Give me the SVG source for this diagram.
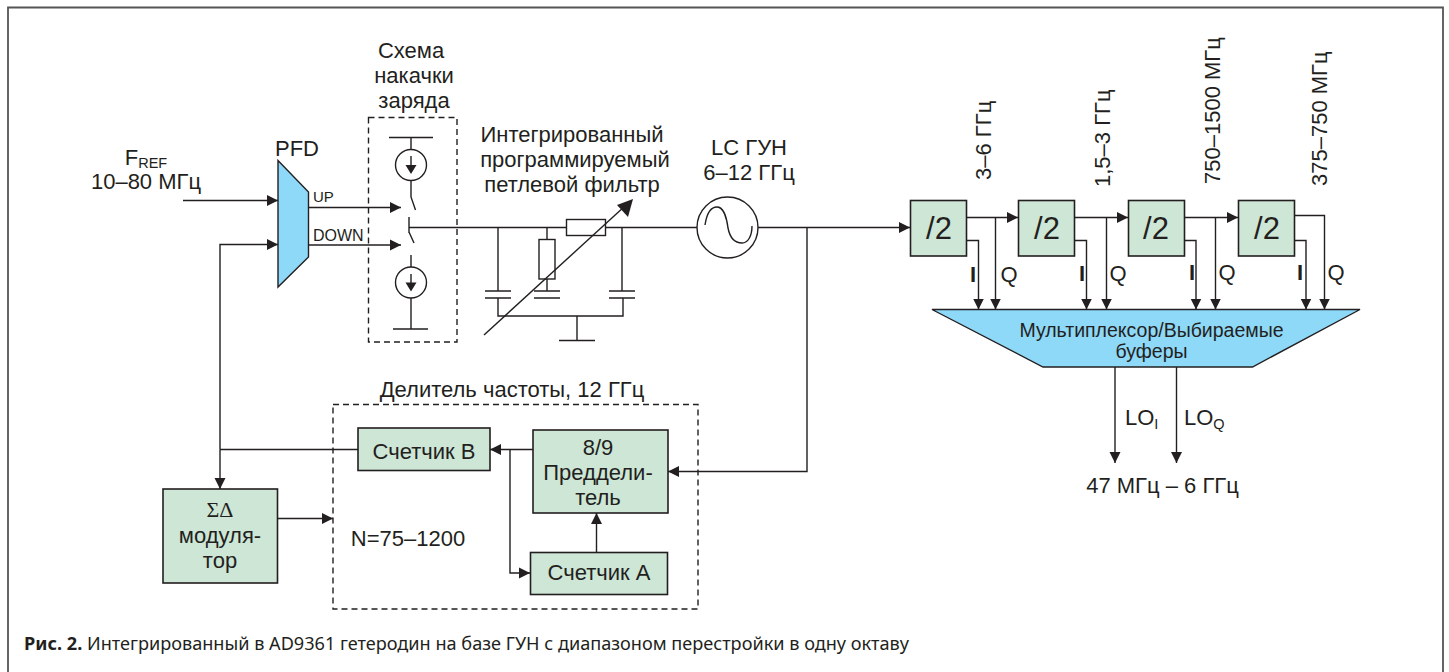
<svg xmlns="http://www.w3.org/2000/svg" width="1449" height="672" viewBox="0 0 1449 672">
<style>
text{font-family:"Liberation Sans",Arial,sans-serif;fill:#231f20;font-size:22px}
.m{text-anchor:middle}
.sub{font-size:14.5px}
.two{font-size:31px;text-anchor:middle}
.mux{font-size:19.5px;text-anchor:middle}
.i{font-weight:700}
.c{fill:none;stroke:#231f20;stroke-width:1.4}
.d{fill:none;stroke:#231f20;stroke-width:1.4;stroke-dasharray:6 4}
.g{fill:#cde6d6;stroke:#231f20;stroke-width:1.6}
.b{fill:#8ed8f8;stroke:#231f20;stroke-width:1.4}
.w{fill:#fff;stroke:#231f20;stroke-width:1.4}
.h{fill:#231f20}
</style>
<defs>
<marker id="a" markerUnits="userSpaceOnUse" markerWidth="12" markerHeight="12" refX="11" refY="6" orient="auto"><path d="M0 0.500L11 6L0 11.500Z" fill="#231f20"/></marker>
</defs>
<rect width="1449" height="672" fill="#fff"/>
<path id="frame" d="M8 672V7.500H1443V672" fill="none" stroke="#555" stroke-width="1.800"/>
<g id="connectors">
<path class="c" marker-end="url(#a)" d="M183 200.500H278"/>
<path class="c" marker-end="url(#a)" d="M220 449.500V244.500H278"/>
<path class="c" marker-end="url(#a)" d="M220 449.500V489"/>
<path class="c" d="M220 449.500H358"/>
<path class="c" marker-end="url(#a)" d="M308 207.500H401"/>
<path class="c" marker-end="url(#a)" d="M308 245H401"/>
<path class="c" marker-end="url(#a)" d="M278 518.500H333"/>
<path class="c" d="M409 227.500H697M758 227.500H807"/>
<path class="c" marker-end="url(#a)" d="M807 227.500H910"/>
<path class="c" marker-end="url(#a)" d="M807 227.500V471.500H668"/>
<path class="c" marker-end="url(#a)" d="M533 449.500H490"/>
<path class="c" marker-end="url(#a)" d="M510 449.500V573H530"/>
<path class="c" marker-end="url(#a)" d="M596.500 552V513"/>
<path class="c" marker-end="url(#a)" d="M966 217.500H1018"/>
<path class="c" marker-end="url(#a)" d="M1074 217.500H1128"/>
<path class="c" marker-end="url(#a)" d="M1184 217.500H1238"/>
<path class="c" marker-end="url(#a)" d="M966 240.500H978.500V309.500"/>
<path class="c" marker-end="url(#a)" d="M995.500 217.500V309.500"/>
<path class="c" marker-end="url(#a)" d="M1074 240.500H1086.500V309.500"/>
<path class="c" marker-end="url(#a)" d="M1106.500 217.500V309.500"/>
<path class="c" marker-end="url(#a)" d="M1184 240.500H1196V309.500"/>
<path class="c" marker-end="url(#a)" d="M1215.500 217.500V309.500"/>
<path class="c" marker-end="url(#a)" d="M1294 240.500H1306V309.500"/>
<path class="c" marker-end="url(#a)" d="M1294 215.500H1324.500V309.500"/>
<path class="c" marker-end="url(#a)" d="M1115 367V463"/>
<path class="c" marker-end="url(#a)" d="M1176.500 367V463"/>
</g>
<g id="pfd"><path class="b" d="M278 160.500L308.500 192V257L278 287Z"/>
<text x="297" y="156" class="m">PFD</text>
<text x="313" y="202" style="font-size:15px">UP</text>
<text x="313" y="241" style="font-size:16px">DOWN</text></g>
<g id="fref"><text x="146" y="165" class="m">F<tspan class="sub" dy="3">REF</tspan></text><text x="146" y="189" class="m">10–80 МГц</text></g>
<g id="charge-pump">
<rect class="d" x="368.500" y="117.500" width="88.500" height="224.500"/>
<text x="411" y="58" class="m">Схема</text><text x="414" y="83" class="m">накачки</text><text x="414" y="108" class="m">заряда</text>
<path class="c" d="M389 137.500H433M411 137.500V150M411 180V197L415.500 210M409 217V233M409 232L414 243M411 255V267M411 298V329M393 329H428"/>
<circle class="c" cx="411" cy="165" r="15.500"/><circle class="c" cx="411" cy="282.500" r="15.500"/>
<path class="c" d="M411 156V167M411 274V284"/><path class="h" d="M405.500 165H416.500L411 174ZM405.500 282.500H416.500L411 291.500Z"/>
</g>
<g id="loop-filter">
<text x="572" y="142" class="m">Интегрированный</text><text x="575" y="167" class="m">программируемый</text><text x="572" y="192" class="m">петлевой фильтр</text>
<rect class="w" x="566.500" y="219.500" width="39" height="16"/>
<rect class="w" x="539" y="239.500" width="16" height="39.500"/>
<path class="c" d="M498 227.500V291M485 291H511M485 298H511M498 298V316H623V298M609 298H635M609 291H635M622 227.500V291M547 227.500V239.500M547 279V291M534 291H560M534 298H560M577 316V340.500M559 340.500H595"/>
<path class="c" d="M484 335L625 206"/><path class="h" d="M633 199L617 205L628 217Z"/>
</g>
<g id="vco"><text x="749" y="155" class="m">LC ГУН</text><text x="749" y="180" class="m">6–12 ГГц</text>
<circle class="w" cx="727.500" cy="227.500" r="30.500"/>
<path class="c" d="M705 225C707 212 712 207 717 207C724 207 727 220 728 228C730 238 735 243 742 243C748 243 752 236 752 226"/></g>
<g id="div1"><rect class="g" x="910.500" y="200.500" width="56" height="55.500"/><text x="939" y="239" class="two">/2</text></g>
<g id="div2"><rect class="g" x="1018.500" y="200.500" width="56" height="55.500"/><text x="1047" y="239" class="two">/2</text></g>
<g id="div3"><rect class="g" x="1128.500" y="200.500" width="56" height="55.500"/><text x="1156" y="239" class="two">/2</text></g>
<g id="div4"><rect class="g" x="1238.500" y="200.500" width="56" height="55.500"/><text x="1267" y="239" class="two">/2</text></g>
<g id="rates">
<text transform="translate(991,180) rotate(-90)">3–6 ГГц</text>
<text transform="translate(1110,187) rotate(-90)">1,5–3 ГГц</text>
<text transform="translate(1220,184) rotate(-90)">750–1500 МГц</text>
<text transform="translate(1327,186) rotate(-90)">375–750 МГц</text>
</g>
<g id="iq">
<text x="973" y="282" class="m i">I</text><text x="1009" y="282" class="m">Q</text>
<text x="1082" y="281" class="m i">I</text><text x="1118" y="281" class="m">Q</text>
<text x="1192" y="280" class="m i">I</text><text x="1227" y="280" class="m">Q</text>
<text x="1300" y="280" class="m i">I</text><text x="1336" y="280" class="m">Q</text>
</g>
<g id="mux"><path class="b" d="M932 309.500H1360L1252.500 367H1043Z"/>
<text x="1151.500" y="337" class="mux">Мультиплексор/Выбираемые</text>
<text x="1151.500" y="358" class="mux">буферы</text></g>
<g id="lo">
<text x="1125" y="425">LO<tspan class="sub" dy="4">I</tspan></text>
<text x="1184" y="425">LO<tspan class="sub" dy="4">Q</tspan></text>
<text x="1162.500" y="493" class="m">47 МГц – 6 ГГц</text>
</g>
<g id="divider">
<rect class="d" x="333" y="404.500" width="365" height="204.500"/>
<text x="512" y="397" class="m">Делитель частоты, 12 ГГц</text>
<text x="408" y="546" class="m">N=75–1200</text>
</g>
<g id="counter-b"><rect class="g" x="358" y="428" width="132" height="42.500"/><text x="424" y="459" class="m">Счетчик В</text></g>
<g id="prescaler"><rect class="g" x="533" y="430" width="135" height="83"/><text x="598" y="455" class="m">8/9</text><text x="598" y="480" class="m">Преддели-</text><text x="598" y="505" class="m">тель</text></g>
<g id="counter-a"><rect class="g" x="530.500" y="552.500" width="137" height="42"/><text x="599" y="580" class="m">Счетчик А</text></g>
<g id="sd"><rect class="g" x="163" y="489" width="114.500" height="94"/><text x="220" y="517" class="m" style="font-family:'Liberation Serif',serif">ΣΔ</text><text x="220" y="543" class="m">модуля-</text><text x="220" y="568" class="m">тор</text></g>
<text id="caption" x="24" y="650" style="font-size:18.120px;font-family:'Noto Sans',sans-serif"><tspan font-weight="700">Рис. 2.</tspan> Интегрированный в AD9361 гетеродин на базе ГУН с диапазоном перестройки в одну октаву</text>
</svg>
